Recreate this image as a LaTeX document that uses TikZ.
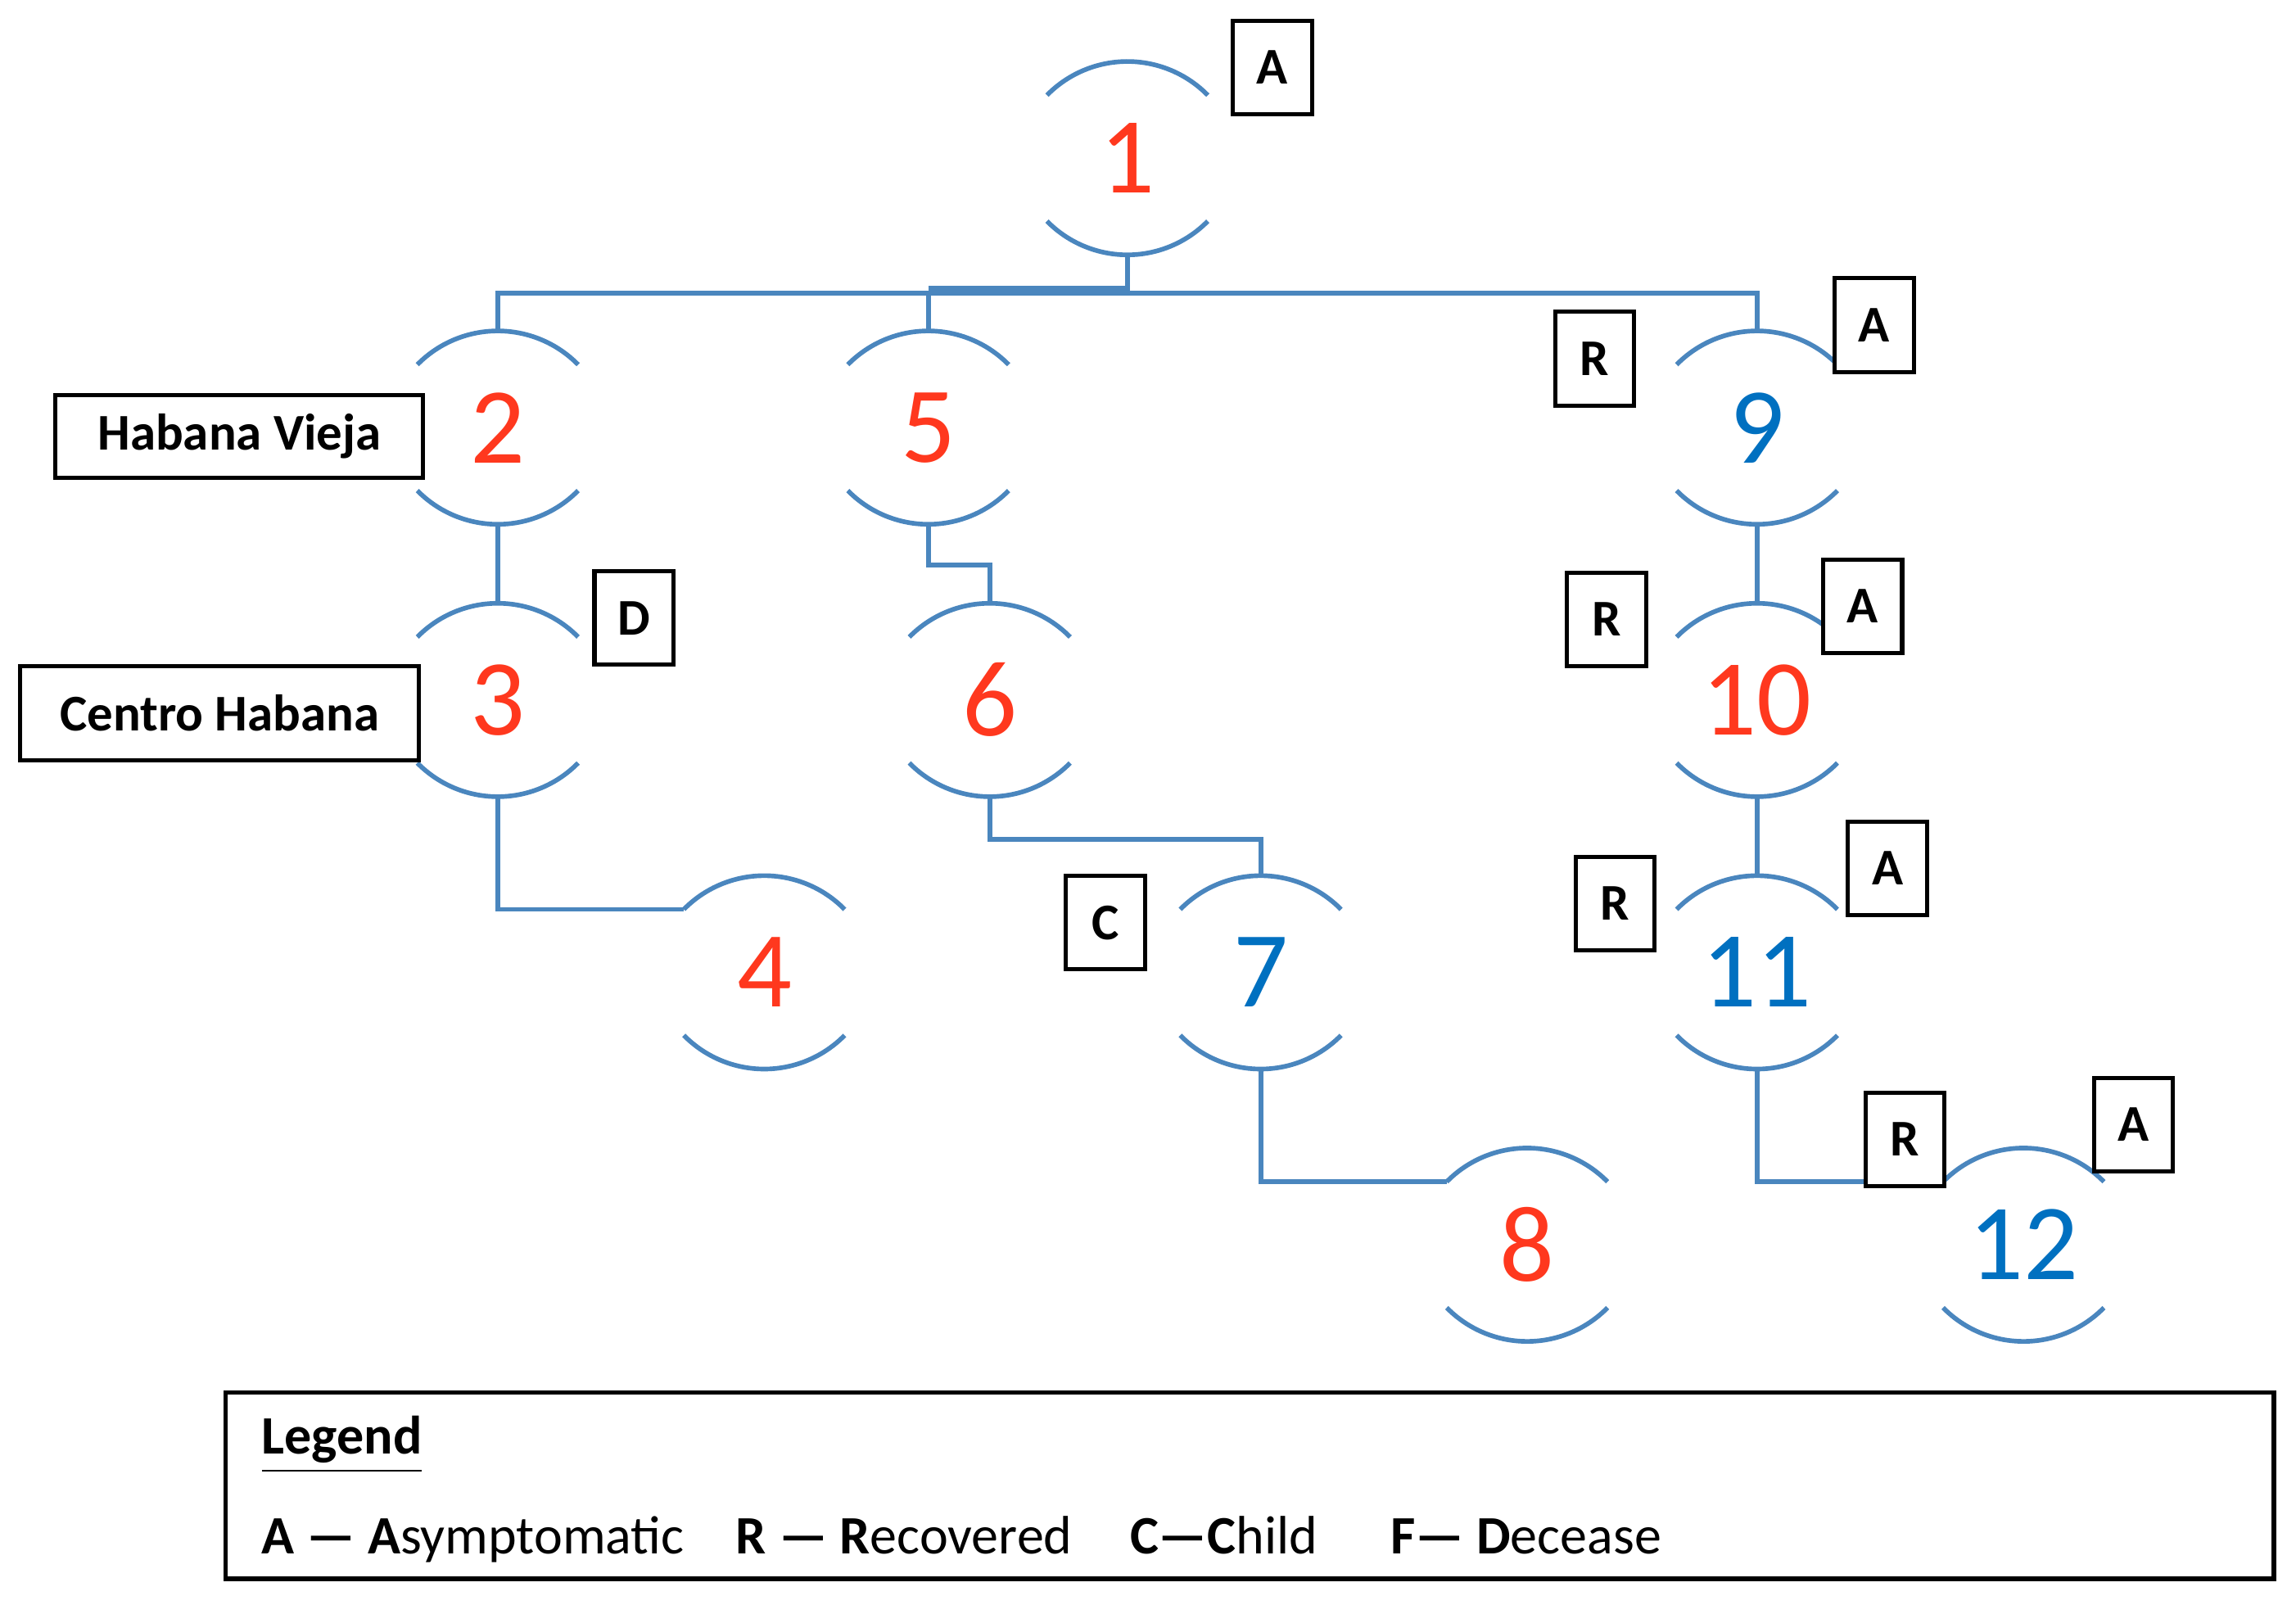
\documentclass[tikz,border=0pt]{standalone}
\usepackage{fontspec}
\setmainfont{Carlito}
\usetikzlibrary{positioning}
\definecolor{casered}{RGB}{255,56,30}
\definecolor{caseblue}{RGB}{0,112,192}
\definecolor{linkblue}{RGB}{74,134,190}

% one case: number, two arcs, top/bottom/left coordinates
\newcommand{\casenode}[5]{%
  \node[num,text=#4] (n#1) at (#2,-#3) {#5};
  \draw[link] (#2-55,-#3+43) arc[start angle=135.5,end angle=44.5,radius=77];
  \draw[link] (#2-55,-#3-43) arc[start angle=224.5,end angle=315.5,radius=77];
  \coordinate (t#1) at (#2,-#3+66);
  \coordinate (b#1) at (#2,-#3-66);
  \coordinate (l#1) at (#2-55,-#3+43);
}

\begin{document}
\begin{tikzpicture}[x=0.01cm,y=0.01cm]
  \tikzset{num/.style={font=\fontsize{21}{21}\selectfont,inner sep=0pt},
    link/.style={draw=linkblue,line width=0.9pt},
    tag/.style={draw,line width=0.8pt,font=\bfseries\fontsize{10}{10}\selectfont,minimum width=0.54cm,minimum height=0.64cm,inner sep=0pt},
    place/.style={draw,line width=0.8pt,font=\bfseries\fontsize{10}{10}\selectfont,inner sep=0pt}}
  \useasboundingbox (0,0) rectangle (1568,-1096);
  \casenode{1}{770}{108}{casered}{1}
  \casenode{2}{340}{292}{casered}{2}
  \casenode{5}{634}{292}{casered}{5}
  \casenode{9}{1200}{292}{caseblue}{9}
  \casenode{3}{340}{478}{casered}{3}
  \casenode{6}{676}{478}{casered}{6}
  \casenode{10}{1200}{478}{casered}{10}
  \casenode{4}{522}{664}{casered}{4}
  \casenode{7}{861}{664}{caseblue}{7}
  \casenode{11}{1200}{664}{caseblue}{11}
  \casenode{8}{1043}{850}{casered}{8}
  \casenode{12}{1382}{850}{caseblue}{12}
  % tree
  \coordinate (hub) at (770,-200);
  \draw[link] (b1) -- (hub);
  \draw[link] (hub) -| (t2);
  \draw[link] (hub) -| (t5);
  \draw[link] (hub) -| (t9);
  \draw[link] (634,-197) -- (770,-197);
  \draw[link] (b2) -- (t3);
  \draw[link] (b3) |- (l4);
  \draw[link] (b5) -- ++(0,-28) -| (t6);
  \draw[link] (b6) -- ++(0,-29) -| (t7);
  \draw[link] (b7) |- (l8);
  \draw[link] (b9) -- (t10);
  \draw[link] (b10) -- (t11);
  \draw[link] (b11) |- (l12);
  % tags
  \node[tag,fill=white] (a1) at (869,-46) {A};
  \node[tag,fill=white] (a9) at (1280,-222) {A};
  \node[tag,fill=white] (r9) at (1089,-245) {R};
  \node[tag,fill=white] (r10) at (1097,-423) {R};
  \node[tag,fill=white] (a10) at (1272,-414) {A};
  \node[tag,fill=white] (r11) at (1103,-617) {R};
  \node[tag,fill=white] (a11) at (1289,-593) {A};
  \node[tag,fill=white] (r12) at (1301,-778) {R};
  \node[tag,fill=white] (a12) at (1457,-768) {A};
  \node[tag,fill=white] (d3) at (433,-422) {D};
  \node[tag,fill=white] (c7) at (755,-630) {C};
  \node[place,minimum width=2.51cm,minimum height=0.56cm] (hv) at (163.5,-298) {Habana Vieja};
  \node[place,minimum width=2.72cm,minimum height=0.64cm] (ch) at (150,-487) {Centro Habana};
  % legend
  \draw[line width=0.9pt] (154,-951) rectangle (1553,-1078);
  \node[anchor=base west,font=\bfseries\fontsize{10.5}{10.5}\selectfont,inner sep=0pt] (lg) at (178,-993) {\underline{Legend}};
  \begin{scope}[every node/.style={anchor=base west,font=\fontsize{10.5}{10.5}\selectfont,inner sep=0pt}]
    \node (la) at (178,-1061) {\textbf{A --- A}symptomatic};
    \node (lr) at (502,-1061) {\textbf{R --- R}ecovered};
    \node (lc) at (771,-1061) {\textbf{C---C}hild};
    \node (lf) at (949,-1061) {\textbf{F--- D}ecease};
  \end{scope}
\end{tikzpicture}
\end{document}
